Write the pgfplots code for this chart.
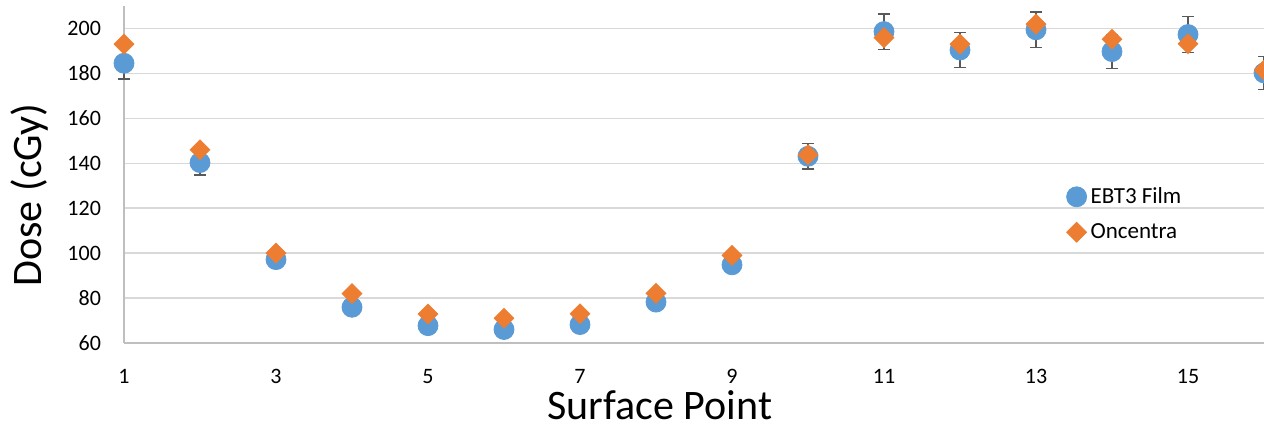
\documentclass[border=0pt]{standalone}
\usepackage{pgfplots}
\pgfplotsset{compat=1.18}
\usepackage{pgfplotstable}
\usepackage{fontspec}
\setmainfont{Carlito}
\usetikzlibrary{calc}
\definecolor{ebt}{HTML}{5B9BD5}
\definecolor{onc}{HTML}{ED7D31}
\definecolor{gridc}{HTML}{D9D9D9}
\definecolor{axc}{HTML}{BFBFBF}
\definecolor{errc}{HTML}{595959}
\pgfplotstableread{
x ebt err onc
1 184.5 7.0 193.0
2 140.3 5.5 146.0
3 97.1 3.5 100.0
4 75.9 2.5 82.0
5 67.7 2.5 72.9
6 66.0 2.5 71.0
7 68.2 2.5 73.0
8 78.2 2.5 82.1
9 94.8 3.0 99.0
10 143.1 5.7 143.8
11 198.6 7.8 195.9
12 190.4 7.7 193.0
13 199.4 7.9 201.9
14 189.7 7.4 195.2
15 197.3 8.0 193.2
16 180.2 7.2 181.5
}\data
\begin{document}
\begin{tikzpicture}
\begin{axis}[
  name=ax,
  scale only axis,
  width=570pt, height=168.5pt,
  xmin=1, xmax=16, ymin=60, ymax=210,
  xtick={1,3,...,15}, ytick={60,80,...,200},
  major tick length=0pt,
  axis x line*=bottom, axis y line*=left,
  axis line style={axc, line width=0.75pt},
  ymajorgrids, grid style={gridc, line width=0.75pt},
  /pgf/number format/assume math mode=true,
  tick label style={font=\fontsize{11}{13}\selectfont, black},
  yticklabel style={xshift=-8pt},
  xticklabel style={yshift=-9.5pt},
  xlabel={Surface Point},
  ylabel={Dose (cGy)},
  label style={font=\fontsize{21}{25}\selectfont},
  xlabel style={at={(rel axis cs:0.470,0)}, anchor=center, yshift=-31pt},
  ylabel style={at={(rel axis cs:-0.0825,0.439)}, anchor=center},
  legend image code/.code={\draw[#1,only marks] plot coordinates {(2.8pt,0pt)};},
  legend style={draw=none, fill=none, at={(rel axis cs:0.8265,0.475)}, anchor=north west,
    font=\fontsize{11.5}{14}\selectfont, row sep=4.5pt, inner sep=0pt},
  legend cell align=left,
  clip=false,
]
\addplot[forget plot, only marks, mark=none,
  error bars/.cd, y dir=both, y explicit,
  error bar style={errc, line width=0.6pt},
  error mark options={errc, rotate=90, mark size=3pt, line width=0.6pt}]
  table[x=x, y=ebt, y error=err] {\data};
\addplot[only marks, mark=*, mark size=5pt, ebt, mark options={fill=ebt, draw=ebt}]
  table[x=x, y=ebt] {\data};
\addlegendentry{EBT3 Film}
\addplot[only marks, mark=square*, mark size=3.5pt, onc, mark options={fill=onc, draw=onc, rotate=45}]
  table[x=x, y=onc] {\data};
\addlegendentry{Oncentra}
\end{axis}
\pgfresetboundingbox
\useasboundingbox ($(ax.south west)+(-62pt,-41pt)$) rectangle ($(ax.north east)+(0,3pt)$);
\end{tikzpicture}
\end{document}
